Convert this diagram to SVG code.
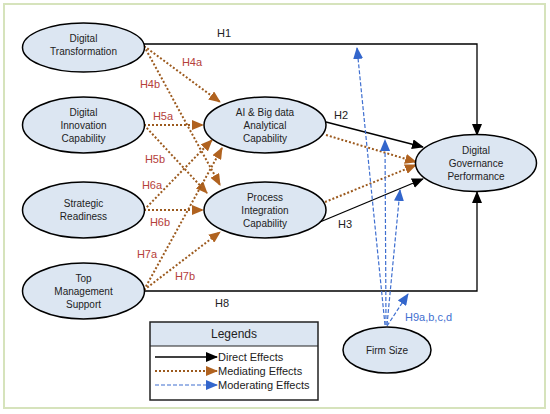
<svg xmlns="http://www.w3.org/2000/svg" width="550" height="414" viewBox="0 0 550 414">
<defs>
<marker id="ab" markerUnits="userSpaceOnUse" markerWidth="12" markerHeight="10" refX="11" refY="5" orient="auto"><path d="M0,0 L12,5 L0,10 Z" fill="#000"/></marker>
<marker id="am" markerUnits="userSpaceOnUse" markerWidth="12" markerHeight="10" refX="11" refY="5" orient="auto"><path d="M0,0 L12,5 L0,10 Z" fill="#b0621f"/></marker>
<marker id="ad" markerUnits="userSpaceOnUse" markerWidth="12" markerHeight="10" refX="11" refY="5" orient="auto"><path d="M0,0 L12,5 L0,10 Z" fill="#3366cc"/></marker>
</defs>
<style>
.n ellipse{fill:#dce6f2;stroke:#000;stroke-width:1.5}
text{font-family:"Liberation Sans",Arial,sans-serif;font-size:10px;fill:#222;text-anchor:middle}
.d{fill:none;stroke:#000;stroke-width:1.3;marker-end:url(#ab)}
.m{fill:none;stroke:#9c5a1e;stroke-width:2;stroke-dasharray:2 2;marker-end:url(#am)}
.o{fill:none;stroke:#3f6fd0;stroke-width:1.2;stroke-dasharray:4 2;marker-end:url(#ad)}
.hl{fill:#b5403a;font-size:11px}
.hb{font-size:11px}
.h9{fill:#3f6fd0;font-size:11px;text-anchor:start}
.lg{text-anchor:start;font-size:11px}
</style>
<rect x="4" y="4" width="541" height="404" fill="#fff" stroke="#d6e3bc" stroke-width="2"/>
<g id="connectors">
<path class="d" d="M144,44 H477 V135"/>
<path class="d" d="M144,291 H477 V192"/>
<path class="d" d="M326,122 L423,147"/>
<path class="d" d="M320,222 L423,179"/>
<path class="m" d="M144,46 L220,102"/>
<path class="m" d="M144,46 L220,185"/>
<path class="m" d="M144,125 L203,125"/>
<path class="m" d="M144,125 L207,193"/>
<path class="m" d="M144,210 L212,140"/>
<path class="m" d="M144,210 L203,210"/>
<path class="m" d="M144,290 L222,148"/>
<path class="m" d="M144,290 L220,232"/>
<path class="m" d="M326,135 L416,162"/>
<path class="m" d="M325,202 L416,165"/>
<path class="o" d="M385,325 L357,48"/>
<path class="o" d="M386,325 L385,140"/>
<path class="o" d="M387,325 L400,190"/>
<path class="o" d="M387,326 L408,294"/>
<text class="hb" x="224" y="37">H1</text>
<text class="hb" x="341" y="119">H2</text>
<text class="hb" x="345" y="228">H3</text>
<text class="hb" x="222" y="307">H8</text>
<text class="hl" x="192" y="66">H4a</text>
<text class="hl" x="150" y="88">H4b</text>
<text class="hl" x="163" y="120">H5a</text>
<text class="hl" x="155" y="163">H5b</text>
<text class="hl" x="152" y="189">H6a</text>
<text class="hl" x="160" y="226">H6b</text>
<text class="hl" x="147" y="258">H7a</text>
<text class="hl" x="185" y="280">H7b</text>
<text class="h9" x="405" y="321">H9a,b,c,d</text>
</g>
<g id="dt" class="n"><ellipse cx="83.5" cy="47.5" rx="61" ry="24.5"/><text x="83.5" y="42">Digital</text><text x="83.5" y="55">Transformation</text></g>
<g id="dic" class="n"><ellipse cx="83.5" cy="125" rx="61" ry="28"/><text x="83.5" y="116">Digital</text><text x="83.5" y="129">Innovation</text><text x="83.5" y="142">Capability</text></g>
<g id="sr" class="n"><ellipse cx="83.5" cy="210" rx="61" ry="28"/><text x="83.5" y="207">Strategic</text><text x="83.5" y="220">Readiness</text></g>
<g id="tms" class="n"><ellipse cx="83.5" cy="291" rx="61" ry="28"/><text x="83.5" y="282">Top</text><text x="83.5" y="295">Management</text><text x="83.5" y="308">Support</text></g>
<g id="ai" class="n"><ellipse cx="265" cy="125" rx="61" ry="28"/><text x="265" y="116">AI &amp; Big data</text><text x="265" y="129">Analytical</text><text x="265" y="142">Capability</text></g>
<g id="pic" class="n"><ellipse cx="265" cy="210" rx="61" ry="28"/><text x="265" y="201">Process</text><text x="265" y="214">Integration</text><text x="265" y="227">Capability</text></g>
<g id="dgp" class="n"><ellipse cx="476" cy="163" rx="60.5" ry="28.5"/><text x="476" y="154">Digital</text><text x="476" y="167">Governance</text><text x="476" y="180">Performance</text></g>
<g id="fs" class="n"><ellipse cx="387" cy="350" rx="44" ry="23"/><text x="387" y="354">Firm Size</text></g>
<g id="legend">
<rect x="150" y="322" width="168" height="24" fill="#dce6f2"/>
<rect x="150" y="322" width="168" height="78" fill="none" stroke="#222" stroke-width="1.5"/>
<line x1="150" y1="346" x2="318" y2="346" stroke="#222" stroke-width="1.2"/>
<text x="234" y="338" style="font-size:12px">Legends</text>
<path class="d" d="M155,357 H217"/>
<path class="m" d="M155,371 H217"/>
<path class="o" d="M155,385 H217"/>
<text class="lg" x="218" y="361">Direct Effects</text>
<text class="lg" x="218" y="375">Mediating Effects</text>
<text class="lg" x="218" y="389">Moderating Effects</text>
</g>
</svg>
